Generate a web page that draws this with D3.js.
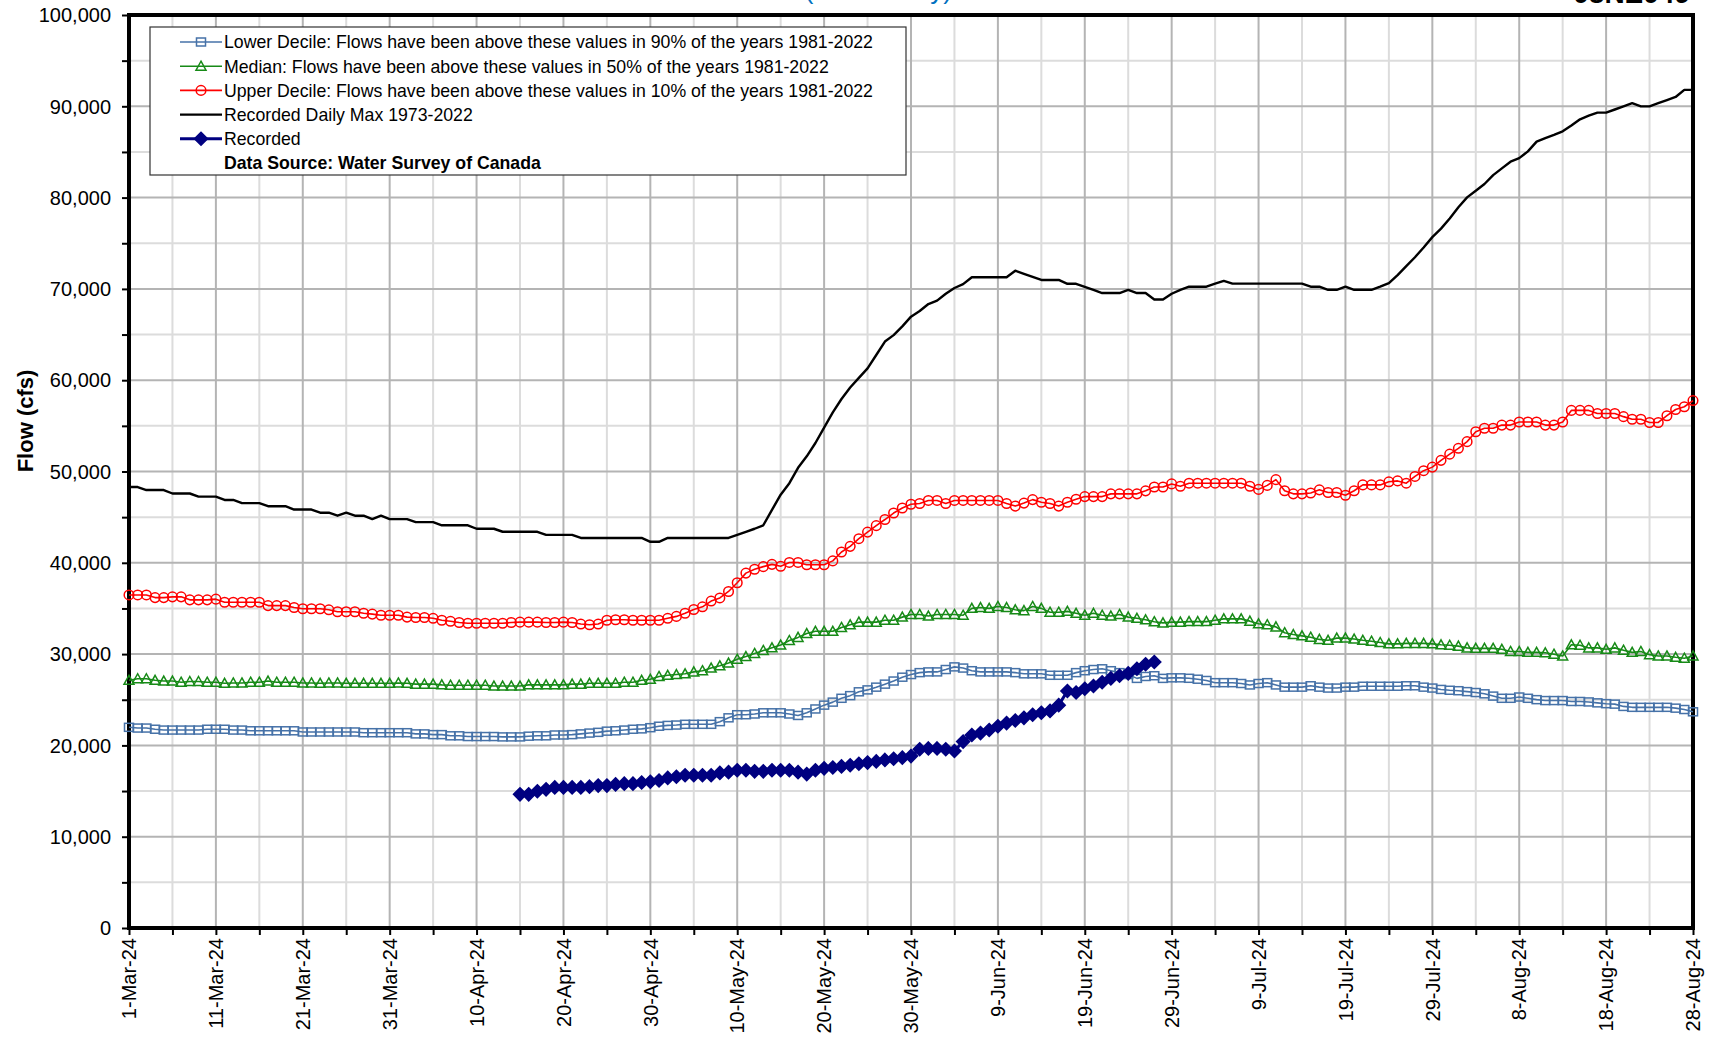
<!DOCTYPE html>
<html lang="en">
<head>
<meta charset="utf-8">
<title>Daily Flows</title>
<script src="https://cdn.jsdelivr.net/npm/d3@7"></script>
<style>
  html, body { margin: 0; padding: 0; background: #fff; overflow: hidden; }
  svg { display: block; font-family: "Liberation Sans", Arial, sans-serif; }
</style>
</head>
<body>
<div id="chart"></div>
<script>

// ---- data (cfs), one value per day from 1-Mar-24 ----
const startDate = new Date(Date.UTC(2024, 2, 1));
const recordedStart = new Date(Date.UTC(2024, 3, 15));

const lowerDecile = [
  21980,21900,21900,21770,21680,21680,21680,21680,21680,21770,
  21770,21770,21680,21680,21600,21600,21600,21600,21600,21600,
  21470,21470,21470,21470,21470,21470,21470,21390,21390,21390,
  21390,21390,21390,21260,21260,21180,21180,21050,21050,20970,
  20970,20970,20970,20930,20930,20930,21010,21050,21050,21140,
  21140,21180,21260,21350,21430,21560,21600,21680,21770,21810,
  21940,22100,22190,22230,22310,22310,22310,22310,22600,23020,
  23360,23360,23440,23570,23570,23570,23440,23280,23570,23990,
  24410,24740,25160,25450,25870,26080,26380,26710,27050,27470,
  27760,27970,28050,28050,28310,28600,28470,28180,28050,28050,
  28050,28050,27970,27840,27840,27840,27680,27680,27680,27970,
  28180,28310,28390,28180,27970,27760,27340,27550,27630,27340,
  27400,27400,27350,27250,27110,26870,26870,26870,26780,26620,
  26780,26870,26620,26380,26380,26380,26530,26380,26280,26280,
  26380,26380,26480,26480,26480,26480,26480,26530,26530,26380,
  26280,26130,26040,25990,25890,25790,25650,25400,25160,25160,
  25300,25160,25010,24910,24910,24910,24810,24810,24760,24660,
  24570,24520,24270,24170,24170,24170,24170,24170,24080,23930,
  23680
];

const median = [
  27130,27300,27300,27130,27050,27050,26920,27000,27000,26920,
  26920,26800,26840,26840,26920,26920,27050,26920,26920,26920,
  26840,26840,26800,26840,26840,26800,26800,26800,26800,26800,
  26800,26840,26800,26710,26710,26710,26630,26590,26590,26590,
  26590,26590,26500,26500,26500,26500,26630,26630,26630,26630,
  26630,26710,26710,26800,26800,26800,26800,26920,26920,27130,
  27240,27550,27680,27760,27840,28050,28180,28470,28720,29020,
  29440,29730,30070,30400,30690,30990,31490,31830,32250,32500,
  32500,32500,32920,33210,33500,33500,33500,33710,33710,34050,
  34340,34340,34170,34340,34340,34340,34260,35010,35100,35010,
  35220,35100,34850,34760,35220,35010,34590,34590,34680,34470,
  34260,34470,34260,34170,34340,34050,33920,33760,33550,33420,
  33500,33500,33560,33560,33560,33710,33860,33860,33860,33610,
  33320,33220,32980,32340,32140,32000,31850,31610,31510,31750,
  31750,31650,31510,31410,31270,31120,31120,31170,31170,31170,
  31120,31020,30970,30870,30680,30630,30630,30630,30530,30290,
  30290,30190,30190,30140,29990,29800,31020,30970,30680,30680,
  30530,30680,30430,30190,30290,29940,29800,29800,29650,29550,
  29800
];

const upperDecile = [
  36480,36480,36480,36190,36190,36270,36270,35940,35940,35940,
  36020,35680,35680,35680,35680,35680,35310,35310,35310,35100,
  34970,34970,34970,34850,34640,34640,34640,34470,34380,34260,
  34260,34260,34050,34010,34010,33920,33710,33590,33460,33380,
  33380,33380,33380,33380,33460,33500,33500,33500,33460,33460,
  33500,33460,33290,33210,33290,33710,33760,33760,33710,33710,
  33710,33710,33920,34130,34470,34890,35180,35810,36150,36860,
  37820,38870,39290,39580,39830,39620,40040,40040,39790,39790,
  39790,40210,41180,41800,42640,43360,44070,44740,45450,46000,
  46410,46500,46830,46830,46500,46830,46830,46830,46830,46830,
  46830,46500,46210,46540,46920,46630,46500,46210,46630,46960,
  47250,47250,47250,47550,47550,47550,47550,47880,48300,48300,
  48640,48380,48720,48720,48720,48720,48720,48720,48720,48380,
  48040,48480,49110,47890,47550,47550,47650,47990,47700,47700,
  47400,47890,48530,48530,48530,48870,48970,48720,49460,50090,
  50480,51220,51900,52540,53270,54350,54740,54740,55080,55080,
  55420,55420,55420,55080,55080,55420,56690,56690,56690,56350,
  56350,56350,56010,55720,55720,55370,55370,56110,56790,57090,
  57770
];

const dailyMax = [
  48300,48300,47970,47970,47970,47590,47590,47590,47250,47250,
  47250,46880,46880,46540,46540,46540,46200,46200,46200,45830,
  45830,45830,45490,45490,45160,45490,45160,45160,44780,45160,
  44780,44780,44780,44450,44450,44450,44110,44110,44110,44110,
  43730,43730,43730,43400,43400,43400,43400,43400,43060,43060,
  43060,43060,42720,42720,42720,42720,42720,42720,42720,42720,
  42300,42300,42720,42720,42720,42720,42720,42720,42720,42720,
  43060,43400,43730,44110,45790,47460,48720,50400,51660,53120,
  54800,56480,57940,59200,60250,61300,62760,64230,64940,65900,
  66960,67580,68340,68720,69470,70100,70520,71270,71270,71270,
  71270,71270,71990,71650,71310,70980,70980,70980,70560,70560,
  70230,69890,69550,69550,69550,69890,69550,69550,68840,68840,
  69470,69890,70240,70240,70240,70580,70880,70580,70580,70580,
  70580,70580,70580,70580,70580,70580,70240,70240,69900,69900,
  70240,69900,69900,69900,70240,70630,71510,72490,73470,74540,
  75670,76600,77720,78950,80020,80750,81490,82460,83200,83930,
  84320,85060,86130,86520,86870,87260,87890,88580,88970,89310,
  89310,89650,89990,90340,89990,89990,90340,90680,91020,91800,
  91800
];

// recorded 2024 flows, from 15-Apr-24
const recorded = [
  14640,14640,14980,15190,15400,
  15400,15400,15400,15480,15600,15600,15730,15810,15810,15940,
  16020,16150,16440,16570,16730,16730,16730,16730,16990,17070,
  17280,17280,17160,17160,17280,17280,17280,17070,16860,17280,
  17490,17580,17700,17830,17990,18120,18250,18410,18540,18660,
  18830,19580,19670,19670,19580,19380,20420,21140,21350,21680,
  22100,22440,22730,23020,23360,23570,23780,24410,25960,25790,
  26210,26500,26920,27340,27630,27890,28390,28890,29140
];

const yTicks = d3.range(0, 100001, 10000);
const dayTicks = d3.range(0, 181, 5);

const legendLabels = [
  "Lower Decile: Flows have been above these values in 90% of the years 1981-2022",
  "Median: Flows have been above these values in 50% of the years 1981-2022",
  "Upper Decile: Flows have been above these values in 10% of the years 1981-2022",
  "Recorded Daily Max 1973-2022",
  "Recorded"
];

// ---- chart ----
const width = 1712, height = 1047;
const plotLeft = 129, plotRight = 1693, plotTop = 15, plotBottom = 928;

const svg = d3.select("#chart").append("svg")
  .attr("width", width)
  .attr("height", height);

svg.append("rect").attr("width", width).attr("height", height).attr("fill", "#fff");

const dayDate = i => d3.utcDay.offset(startDate, i);

const x = d3.scaleUtc()
  .domain([startDate, dayDate(180)])
  .range([plotLeft, plotRight]);

const y = d3.scaleLinear()
  .domain([0, 100000])
  .range([plotBottom, plotTop]);

// gridlines, light ones first
const minorY = d3.range(5000, 100000, 10000);
svg.append("g").selectAll("line")
  .data(dayTicks.filter(i => i % 10 != 0))
  .join("line")
  .attr("x1", i => x(dayDate(i))).attr("x2", i => x(dayDate(i)))
  .attr("y1", plotTop).attr("y2", plotBottom)
  .attr("stroke", "#dcdcdc").attr("stroke-width", 2);

svg.append("g").selectAll("line")
  .data(minorY)
  .join("line")
  .attr("x1", plotLeft).attr("x2", plotRight)
  .attr("y1", d => y(d)).attr("y2", d => y(d))
  .attr("stroke", "#dcdcdc").attr("stroke-width", 2);

svg.append("g").selectAll("line")
  .data(dayTicks.filter(i => i % 10 == 0))
  .join("line")
  .attr("x1", i => x(dayDate(i))).attr("x2", i => x(dayDate(i)))
  .attr("y1", plotTop).attr("y2", plotBottom)
  .attr("stroke", "#b4b4b4").attr("stroke-width", 2);

svg.append("g").selectAll("line")
  .data(yTicks)
  .join("line")
  .attr("x1", plotLeft).attr("x2", plotRight)
  .attr("y1", d => y(d)).attr("y2", d => y(d))
  .attr("stroke", "#b4b4b4").attr("stroke-width", 2);

// axes
const yAxis = svg.append("g")
  .attr("transform", `translate(${plotLeft},0)`)
  .call(d3.axisLeft(y).tickValues(d3.range(0, 100001, 5000)).tickSize(7).tickFormat(""));
yAxis.select(".domain").remove();
yAxis.selectAll(".tick line").attr("stroke", "#000").attr("stroke-width", 2);

svg.append("g").selectAll("text")
  .data(yTicks)
  .join("text")
  .attr("x", 111)
  .attr("y", d => y(d))
  .attr("dy", "0.36em")
  .attr("text-anchor", "end")
  .attr("font-size", 20)
  .text(d3.format(","));

const xAxis = svg.append("g")
  .attr("transform", `translate(0,${plotBottom})`)
  .call(d3.axisBottom(x).tickValues(dayTicks.map(dayDate)).tickSize(7).tickFormat(""));
xAxis.select(".domain").remove();
xAxis.selectAll(".tick line").attr("stroke", "#000").attr("stroke-width", 2);

const fmt = d3.utcFormat("%-d-%b-%y");
svg.append("g").selectAll("text")
  .data(d3.range(0, 181, 10))
  .join("text")
  .attr("transform", i => `translate(${x(dayDate(i))},938) rotate(-90)`)
  .attr("dy", "0.36em")
  .attr("text-anchor", "end")
  .attr("font-size", 20)
  .text(i => fmt(dayDate(i)));

// frame
svg.append("rect")
  .attr("x", plotLeft).attr("y", plotTop)
  .attr("width", plotRight - plotLeft).attr("height", plotBottom - plotTop)
  .attr("fill", "none").attr("stroke", "#000").attr("stroke-width", 4);

svg.append("text")
  .attr("transform", "translate(25,421) rotate(-90)")
  .attr("text-anchor", "middle")
  .attr("dy", "0.36em")
  .attr("font-size", 22)
  .attr("font-weight", "bold")
  .text("Flow (cfs)");

// title, mostly above the page edge
svg.append("text")
  .attr("x", 952).attr("y", -1)
  .attr("text-anchor", "end")
  .attr("font-size", 26)
  .attr("fill", "#0070c0")
  .text("Columbia River at Birchbank (Preliminary)");
svg.append("text")
  .attr("x", 1690).attr("y", 3)
  .attr("text-anchor", "end")
  .attr("font-size", 28)
  .attr("font-weight", "bold")
  .text("08NE049");

// ---- series ----
const markers = {
  square: g => g.append("rect").attr("x", -4.5).attr("y", -4).attr("width", 9).attr("height", 8),
  triangle: g => g.append("path").attr("d", "M0,-5L5,4L-5,4Z"),
  circle: g => g.append("circle").attr("r", 4.8),
  diamond: g => g.append("path").attr("d", "M0,-6.5L6.5,0L0,6.5L-6.5,0Z"),
  none: g => g
};

const series = [
  {values: lowerDecile, start: startDate, color: "#4672a8", width: 1.6, marker: "square", fill: "none"},
  {values: median, start: startDate, color: "#178a17", width: 1.6, marker: "triangle", fill: "none"},
  {values: upperDecile, start: startDate, color: "#ff0000", width: 1.6, marker: "circle", fill: "none"},
  {values: dailyMax, start: startDate, color: "#000000", width: 2.4, marker: "none", fill: "none"},
  {values: recorded, start: recordedStart, color: "#000080", width: 3, marker: "diamond", fill: "#000080"}
];

const line = d3.line()
  .x(d => x(d.date))
  .y(d => y(d.v));

series.forEach(s => {
  const pts = s.values.map((v, i) => ({date: d3.utcDay.offset(s.start, i), v}));
  svg.append("path")
    .datum(pts)
    .attr("d", line)
    .attr("fill", "none")
    .attr("stroke", s.color)
    .attr("stroke-width", s.width)
    .attr("stroke-linejoin", "round");
  if (s.marker != "none") {
    svg.append("g").selectAll("g")
      .data(pts)
      .join("g")
      .attr("transform", d => `translate(${x(d.date)},${y(d.v)})`)
      .each(function() { markers[s.marker](d3.select(this)); })
      .selectAll("*")
      .attr("fill", s.fill)
      .attr("stroke", s.color)
      .attr("stroke-width", 1.5);
  }
});

// ---- legend ----
const legend = svg.append("g");
legend.append("rect")
  .attr("x", 150).attr("y", 27)
  .attr("width", 756).attr("height", 148)
  .attr("fill", "#fff").attr("stroke", "#333").attr("stroke-width", 1.2);

series.forEach((s, i) => {
  const ly = 42 + i * 24.2;
  const g = legend.append("g");
  g.append("line")
    .attr("x1", 180).attr("x2", 222)
    .attr("y1", ly).attr("y2", ly)
    .attr("stroke", s.color).attr("stroke-width", s.width);
  if (s.marker != "none") {
    const m = g.append("g").attr("transform", `translate(201,${ly})`);
    markers[s.marker](m);
    m.selectAll("*").attr("fill", s.fill).attr("stroke", s.color).attr("stroke-width", 1.5);
  }
  g.append("text")
    .attr("x", 224).attr("y", ly)
    .attr("dy", "0.36em")
    .attr("font-size", 17.7)
    .text(legendLabels[i]);
});

legend.append("text")
  .attr("x", 224).attr("y", 42 + 5 * 24.2)
  .attr("dy", "0.36em")
  .attr("font-size", 17.7)
  .attr("font-weight", "bold")
  .text("Data Source: Water Survey of Canada");

</script>
</body>
</html>
